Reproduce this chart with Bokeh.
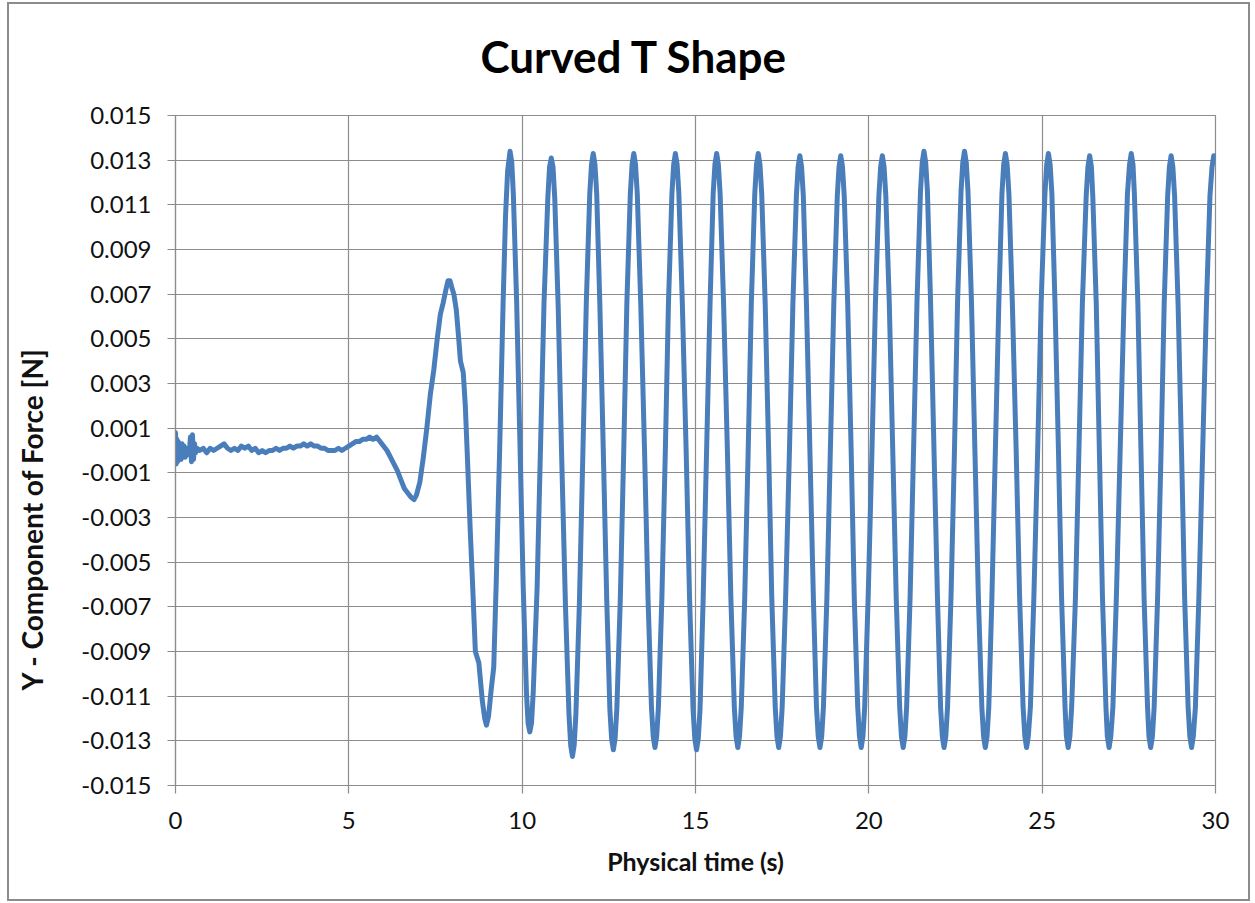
import math
from bokeh.plotting import figure
from bokeh.models import FixedTicker, PrintfTickFormatter, Title, ColumnDataSource
from bokeh.embed import file_html
from bokeh.resources import INLINE

# ---- data ----
x_ticks = [0, 5, 10, 15, 20, 25, 30]
y_ticks = [-0.015, -0.013, -0.011, -0.009, -0.007, -0.005, -0.003, -0.001,
           0.001, 0.003, 0.005, 0.007, 0.009, 0.011, 0.013, 0.015]

quiet_t = [0.00, 0.02, 0.04, 0.06, 0.08, 0.10, 0.13, 0.16, 0.19, 0.22,
           0.25, 0.28, 0.31, 0.34, 0.37, 0.40, 0.43, 0.46, 0.49, 0.52,
           0.55, 0.58, 0.62, 0.7, 0.8, 0.9, 1.0, 1.1, 1.2, 1.3,
           1.4, 1.5, 1.6, 1.7, 1.8, 1.9, 2.0, 2.1, 2.2, 2.3,
           2.4, 2.5, 2.6, 2.7, 2.8, 2.9, 3.0, 3.1, 3.2, 3.3,
           3.4, 3.5, 3.6, 3.7, 3.8, 3.9, 4.0, 4.1, 4.2, 4.3,
           4.4, 4.5, 4.6, 4.7, 4.8, 4.9, 5.0, 5.1, 5.2, 5.3,
           5.4, 5.5, 5.6, 5.7, 5.8, 5.9]
quiet_f = [0.0008, -0.0006, 0.0005, -0.0005, 0.0004, -0.0004, 0.0003, -0.0004, 0.0003, -0.0003,
           0.0002, -0.0003, 0.0001, -0.0002, 0.0000, -0.0001, 0.0006, -0.0005, 0.0007, -0.0004,
           0.0003, -0.0001, 0.0001, 0.0000, 0.0001, -0.0001, 0.0001, 0.0000, 0.0001, 0.0002,
           0.0003, 0.0001, 0.0000, 0.0001, 0.0000, 0.0002, 0.0001, 0.0002, 0.0000, 0.0001,
           -0.0001, 0.0000, -0.0001, 0.0000, 0.0000, 0.0001, 0.0000, 0.0001, 0.0001, 0.0002,
           0.0001, 0.0002, 0.0002, 0.0003, 0.0002, 0.0003, 0.0002, 0.0002, 0.0001, 0.0001,
           0.0000, 0.0000, 0.0000, 0.0001, 0.0000, 0.0001, 0.0002, 0.0003, 0.0004, 0.0004,
           0.0005, 0.0005, 0.0006, 0.0005, 0.0006, 0.0004]

transient_t = [6.0, 6.1, 6.2, 6.3, 6.4, 6.5, 6.6, 6.7, 6.8, 6.88,
               6.95, 7.05, 7.15, 7.25, 7.35, 7.45, 7.55, 7.64, 7.72, 7.80,
               7.86, 7.92, 7.97, 8.03, 8.10, 8.17, 8.22, 8.30, 8.36, 8.42,
               8.50, 8.57, 8.65, 8.75, 8.85, 8.92, 8.97, 9.03, 9.10, 9.18,
               9.25, 9.35, 9.45, 9.52, 9.58, 9.65]
transient_f = [0.0002, 0.0000, -0.0003, -0.0006, -0.0009, -0.0013, -0.0017, -0.0019, -0.0021, -0.0022,
               -0.0020, -0.0014, -0.0003, 0.0010, 0.0025, 0.0036, 0.0050, 0.0061, 0.0066, 0.0072,
               0.0076, 0.0076, 0.0073, 0.0070, 0.0063, 0.0050, 0.0040, 0.0035, 0.0020, -0.0003,
               -0.0035, -0.0060, -0.0090, -0.0095, -0.0112, -0.0120, -0.0123, -0.0119, -0.0108, -0.0097,
               -0.0060, 0.0000, 0.0066, 0.0105, 0.0125, 0.0134]

osc_t = [
    9.745, 9.84, 9.935, 10.03, 10.125, 10.22,
    10.32, 10.43, 10.53, 10.63, 10.74, 10.84,
    10.94, 11.04, 11.14, 11.25, 11.35, 11.45,
    11.55, 11.65, 11.75, 11.85, 11.95, 12.05,
    12.15, 12.24, 12.34, 12.44, 12.53, 12.63,
    12.73, 12.83, 12.93, 13.02, 13.12, 13.22,
    13.32, 13.42, 13.53, 13.63, 13.73, 13.83,
    13.93, 14.03, 14.13, 14.22, 14.32, 14.42,
    14.52, 14.62, 14.73, 14.83, 14.93, 15.03,
    15.13, 15.22, 15.32, 15.42, 15.51, 15.61,
    15.71, 15.81, 15.92, 16.02, 16.12, 16.22,
    16.32, 16.42, 16.52, 16.61, 16.71, 16.81,
    16.91, 17.01, 17.11, 17.20, 17.30, 17.40,
    17.50, 17.60, 17.71, 17.81, 17.91, 18.01,
    18.11, 18.20, 18.30, 18.40, 18.49, 18.59,
    18.69, 18.79, 18.89, 18.99, 19.09, 19.19,
    19.29, 19.39, 19.49, 19.58, 19.68, 19.78,
    19.88, 19.98, 20.09, 20.19, 20.29, 20.39,
    20.49, 20.59, 20.69, 20.79, 20.89, 20.99,
    21.09, 21.19, 21.29, 21.39, 21.49, 21.59,
    21.69, 21.78, 21.88, 21.98, 22.07, 22.17,
    22.27, 22.37, 22.47, 22.56, 22.66, 22.76,
    22.86, 22.96, 23.06, 23.16, 23.26, 23.36,
    23.46, 23.55, 23.65, 23.75, 23.84, 23.94,
    24.04, 24.14, 24.25, 24.35, 24.45, 24.55,
    24.66, 24.76, 24.87, 24.97, 25.08, 25.18,
    25.28, 25.37, 25.47, 25.56, 25.66, 25.75,
    25.85, 25.96, 26.06, 26.16, 26.27, 26.37,
    26.46, 26.56, 26.65, 26.74, 26.84, 26.93,
    27.04, 27.14, 27.25, 27.36, 27.46, 27.57,
    27.66, 27.76, 27.85, 27.94, 28.04, 28.13,
    28.23, 28.33, 28.43, 28.52, 28.62, 28.72,
    28.82, 28.92, 29.02, 29.11, 29.21, 29.31,
    29.42, 29.52, 29.63, 29.74, 29.84, 29.95,
    30.0,
]
osc_f = [
    0.0115, 0.0067, 0.0004, -0.0061, -0.0109, -0.0126,
    -0.0108, -0.0062, 0.0002, 0.0066, 0.0113, 0.0131,
    0.0113, 0.0064, -0.0003, -0.0070, -0.0118, -0.0137,
    -0.0118, -0.0069, -0.0002, 0.0066, 0.0115, 0.0133,
    0.0115, 0.0066, 0.0000, -0.0067, -0.0116, -0.0134,
    -0.0116, -0.0067, 0.0000, 0.0066, 0.0115, 0.0133,
    0.0115, 0.0066, 0.0000, -0.0066, -0.0115, -0.0133,
    -0.0115, -0.0066, 0.0000, 0.0066, 0.0115, 0.0133,
    0.0115, 0.0066, 0.0000, -0.0067, -0.0116, -0.0134,
    -0.0116, -0.0067, 0.0000, 0.0066, 0.0115, 0.0133,
    0.0115, 0.0066, 0.0000, -0.0066, -0.0115, -0.0133,
    -0.0115, -0.0066, 0.0000, 0.0066, 0.0115, 0.0133,
    0.0115, 0.0066, 0.0000, -0.0066, -0.0115, -0.0133,
    -0.0115, -0.0066, 0.0000, 0.0066, 0.0114, 0.0132,
    0.0114, 0.0066, 0.0000, -0.0066, -0.0115, -0.0133,
    -0.0115, -0.0066, 0.0000, 0.0066, 0.0114, 0.0132,
    0.0114, 0.0066, 0.0000, -0.0066, -0.0115, -0.0133,
    -0.0115, -0.0066, 0.0000, 0.0066, 0.0114, 0.0132,
    0.0114, 0.0066, 0.0000, -0.0066, -0.0115, -0.0133,
    -0.0115, -0.0066, 0.0000, 0.0067, 0.0116, 0.0134,
    0.0116, 0.0067, 0.0000, -0.0066, -0.0115, -0.0133,
    -0.0115, -0.0066, 0.0000, 0.0067, 0.0116, 0.0134,
    0.0116, 0.0067, 0.0000, -0.0066, -0.0115, -0.0133,
    -0.0115, -0.0066, 0.0000, 0.0066, 0.0115, 0.0133,
    0.0115, 0.0066, 0.0000, -0.0066, -0.0115, -0.0133,
    -0.0115, -0.0066, 0.0000, 0.0066, 0.0115, 0.0133,
    0.0115, 0.0066, 0.0000, -0.0066, -0.0115, -0.0133,
    -0.0115, -0.0066, 0.0000, 0.0066, 0.0114, 0.0132,
    0.0114, 0.0066, 0.0000, -0.0066, -0.0115, -0.0133,
    -0.0115, -0.0066, 0.0000, 0.0066, 0.0115, 0.0133,
    0.0115, 0.0066, 0.0000, -0.0066, -0.0115, -0.0133,
    -0.0115, -0.0066, 0.0000, 0.0066, 0.0114, 0.0132,
    0.0114, 0.0066, 0.0000, -0.0066, -0.0115, -0.0133,
    -0.0115, -0.0066, 0.0000, 0.0066, 0.0114, 0.0132,
    0.0131,
]

# samples just either side of each crest / trough (rounded tips)
crest_t = [9.70,
           10.17, 10.27, 10.79, 10.89, 11.40, 11.50, 12.00, 12.10,
           12.58, 12.68, 13.17, 13.27, 13.78, 13.88, 14.37, 14.47,
           14.98, 15.08, 15.56, 15.66, 16.17, 16.27, 16.76, 16.86,
           17.35, 17.45, 17.96, 18.06, 18.54, 18.64, 19.14, 19.24,
           19.73, 19.83, 20.34, 20.44, 20.94, 21.04, 21.54, 21.64,
           22.12, 22.22, 22.71, 22.81, 23.31, 23.41, 23.89, 23.99,
           24.50, 24.60, 25.13, 25.23, 25.70, 25.80, 26.32, 26.42,
           26.88, 26.98, 27.52, 27.62, 28.08, 28.18, 28.67, 28.77,
           29.26, 29.36,
           29.90]
crest_f = [0.0129,
           -0.0122, -0.0122, 0.0127, 0.0127, -0.0132, -0.0132, 0.0128, 0.0128,
           -0.0129, -0.0129, 0.0128, 0.0128, -0.0128, -0.0128, 0.0128, 0.0128,
           -0.0129, -0.0129, 0.0128, 0.0128, -0.0128, -0.0128, 0.0128, 0.0128,
           -0.0128, -0.0128, 0.0127, 0.0127, -0.0128, -0.0128, 0.0127, 0.0127,
           -0.0128, -0.0128, 0.0127, 0.0127, -0.0128, -0.0128, 0.0129, 0.0129,
           -0.0128, -0.0128, 0.0129, 0.0129, -0.0128, -0.0128, 0.0128, 0.0128,
           -0.0128, -0.0128, 0.0128, 0.0128, -0.0128, -0.0128, 0.0127, 0.0127,
           -0.0128, -0.0128, 0.0128, 0.0128, -0.0128, -0.0128, 0.0127, 0.0127,
           -0.0128, -0.0128,
           0.0127]

title_text = "Curved T Shape"
x_label = "Physical time (s)"
y_label = "Y - Component of Force  [N]"

# ---- styling ----
FONT = "Lato"
GRID = "#8c8c8c"
LINE = "#4a7ebb"

assert len(quiet_t) == len(quiet_f)
assert len(transient_t) == len(transient_f)
assert len(osc_t) == len(osc_f)
assert len(crest_t) == len(crest_f)
pairs = sorted(zip(quiet_t + transient_t + osc_t + crest_t,
                   quiet_f + transient_f + osc_f + crest_f), key=lambda q: q[0])
src = ColumnDataSource(data=dict(t=[q[0] for q in pairs], f=[q[1] for q in pairs]))

p = figure(frame_width=1040, frame_height=670, title=None,
           x_range=(0, 30), y_range=(-0.015, 0.015),
           output_backend="svg", toolbar_location=None,
           min_border_left=166, min_border_right=33,
           min_border_top=111, min_border_bottom=114,
           background_fill_color="white", border_fill_color="white")
p.margin = (2, 0, 0, 7)
p.styles = {"border": "2px solid #8c8c8c"}
p.outline_line_color = GRID
p.outline_line_width = 1.2

p.line("t", "f", source=src, line_color=LINE, line_width=5,
       line_join="round", line_cap="round")

for ax in (p.xaxis[0], p.yaxis[0]):
    ax.axis_line_color = GRID
    ax.axis_line_width = 1.2
    ax.major_tick_line_color = GRID
    ax.major_tick_line_width = 1.2
    ax.major_tick_out = 8
    ax.major_tick_in = 0
    ax.minor_tick_line_color = None
    ax.major_label_text_font = FONT
    ax.major_label_text_font_size = "24px"
    ax.major_label_text_color = "#111111"

p.xaxis.ticker = FixedTicker(ticks=x_ticks)
p.yaxis.ticker = FixedTicker(ticks=y_ticks)
p.yaxis.formatter = PrintfTickFormatter(format="%.3f")
p.xaxis.major_label_standoff = 18
p.yaxis.major_label_standoff = 16

p.xaxis.axis_label = x_label
p.xaxis.axis_label_text_font = FONT
p.xaxis.axis_label_text_font_style = "bold"
p.xaxis.axis_label_text_font_size = "25px"
p.xaxis.axis_label_text_color = "#111111"
p.xaxis.axis_label_standoff = 14

p.xgrid.ticker = FixedTicker(ticks=x_ticks)
p.ygrid.ticker = FixedTicker(ticks=y_ticks)
for g in (p.xgrid[0], p.ygrid[0]):
    g.grid_line_color = GRID
    g.grid_line_width = 1.2

# spacer panels keep the frame where the reference has it
top_gap = Title(text=" ", text_font_size="2px", standoff=20)
p.add_layout(top_gap, "above")
main_title = Title(text=title_text, align="left", offset=305, standoff=19,
                   text_font=FONT, text_font_style="bold", text_font_size="44px",
                   text_color="#000000")
p.add_layout(main_title, "above")

left_gap = Title(text=" ", text_font_size="2px", standoff=23)
p.add_layout(left_gap, "left")
ylab = Title(text=y_label, align="left", offset=95, standoff=6,
             text_font=FONT, text_font_style="bold", text_font_size="28px",
             text_color="#111111")
p.add_layout(ylab, "left")

open("out.html", "w").write(file_html(p, INLINE))
